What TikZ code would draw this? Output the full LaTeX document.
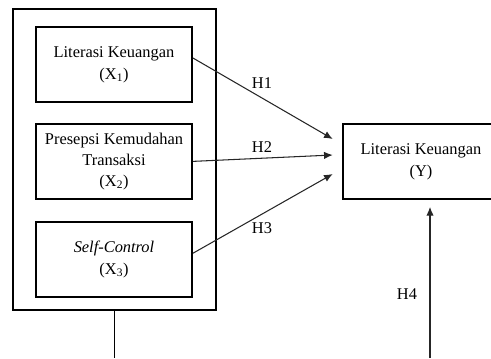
\documentclass[tikz,border=0pt]{standalone}
\usepackage{fontspec}
\setmainfont{Liberation Serif}
\usetikzlibrary{positioning,calc,arrows.meta}

\tikzset{
	varbox/.style={draw=black,line width=1.6pt,minimum width=4.68cm,minimum height=2.25cm,align=center,font=\fontsize{14}{19}\selectfont},
	hyp/.style={draw=black!85,line width=0.9pt,-{Latex[length=2.6mm,width=2.2mm]}},
	hlabel/.style={font=\fontsize{14}{17}\selectfont}
}

\begin{document}
\begin{tikzpicture}
		\useasboundingbox (0,0) rectangle (14.73,-10.74);
		\clip (0,0) rectangle (14.73,-10.74);
		
		\node[draw=black,line width=1.6pt,minimum width=6.09cm,minimum height=9.03cm] (frame) at (3.435,-4.785) {};
		
		\node[varbox] (x1) at (3.42,-1.935) {Literasi Keuangan\\(X\textsubscript{1})};
		\node[varbox,below=0.6cm of x1,font=\fontsize{14}{18}\selectfont] (x2) {Presepsi Kemudahan\\Transaksi\\(X\textsubscript{2})};
		\node[varbox,below=0.63cm of x2] (x3) {\textit{Self-Control}\\(X\textsubscript{3})};
		
		\node[varbox,minimum width=4.7cm] (y) at (12.63,-4.845) {Literasi Keuangan\\(Y)};
		
		% ends of the arrows near Y
		\coordinate (t1) at ($(y.west)+(-0.27,0.675)$);
		\coordinate (t2) at ($(y.west)+(-0.27,0.195)$);
		\coordinate (t3) at ($(y.west)+(-0.27,-0.375)$);
		\coordinate (t4) at ($(y.south)+(0.27,-0.21)$);
		\coordinate (b4) at (t4|-0,-10.74);
		\coordinate (b0) at (frame.south|-0,-10.74);
		
		\draw[hyp] ($(x1.east)+(0,0.195)$)--(t1);
		\draw[hyp] (x2.east)--(t2);
		\draw[hyp] ($(x3.east)+(0,0.18)$)--(t3);
		\draw[hyp] (b4)--(t4);
		
		\draw[line width=0.9pt] (frame.south)--(b0);
		
		\node[hlabel] (h1) at (7.86,-2.49) {H1};
		\node[hlabel] (h2) at (7.86,-4.41) {H2};
		\node[hlabel] (h3) at (7.86,-6.84) {H3};
		\node[hlabel] (h4) at (12.21,-8.82) {H4};
	\end{tikzpicture}
\end{document}
